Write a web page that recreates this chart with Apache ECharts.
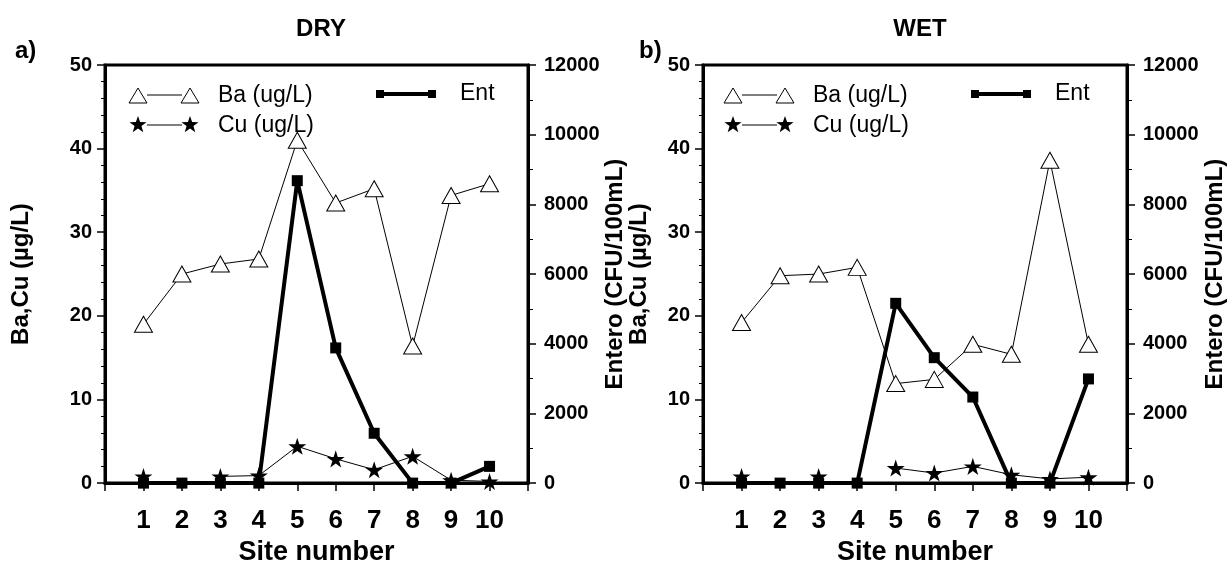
<!DOCTYPE html>
<html>
<head>
<meta charset="utf-8">
<script src="https://cdn.jsdelivr.net/npm/echarts@6/dist/echarts.min.js"></script>
<style>
  html, body { margin: 0; padding: 0; background: #fff; }
  #chart { width: 1229px; height: 571px; }
</style>
</head>
<body>
<div id="chart"></div>
<script>
// site numbers along the x axis
const sites = [1, 2, 3, 4, 5, 6, 7, 8, 9, 10]

// DRY season
const dryBa = [19, 25, 26.2, 26.8, 41, 33.5, 35.2, 16.4, 34.4, 35.8]
const dryCu = [0.8, null, 0.8, 0.9, 4.4, 2.9, 1.6, 3.2, 0.35, 0.2]
const dryEnt = [0, 0, 0, 0, 8680, 3880, 1430, 0, 0, 480]

// WET season
const wetBa = [19.2, 24.8, 25, 25.8, 11.9, 12.4, 16.6, 15.4, 38.6, 16.6]
const wetCu = [0.8, null, 0.8, null, 1.8, 1.2, 2.0, 1.0, 0.5, 0.7]
const wetEnt = [0, 0, 0, 0, 5160, 3600, 2470, 0, 0, 2990]

const FONT = 'Liberation Sans, Arial, sans-serif'
const STAR = 'path://M50,0 L61,35 L98,35 L68,57 L79,91 L50,70 L21,91 L32,57 L2,35 L39,35 Z'

function pairs(values) {
  return sites.map((s, i) => [s, values[i] == null ? '-' : values[i]])
}

function xAxisFor(gridIndex) {
  return {
    type: 'value', gridIndex, min: 0, max: 11, interval: 1,
    axisLine: { lineStyle: { color: '#000', width: 3 } },
    axisTick: { inside: false, length: 8, lineStyle: { color: '#000', width: 1.5 } },
    axisLabel: {
      margin: 25, color: '#000', fontFamily: FONT, fontSize: 26, fontWeight: 'bold',
      formatter: (v) => (sites.includes(v) ? String(v) : '')
    },
    splitLine: { show: false },
    name: 'Site number', nameLocation: 'middle', nameGap: 48,
    nameTextStyle: { color: '#000', fontFamily: FONT, fontSize: 27, fontWeight: 'bold' }
  }
}

function leftAxisFor(gridIndex, nameGap) {
  return {
    type: 'value', gridIndex, position: 'left', min: 0, max: 50, interval: 10,
    axisLine: { show: true, lineStyle: { color: '#000', width: 3 } },
    axisTick: { show: true, length: 8, lineStyle: { color: '#000', width: 1.5 } },
    minorTick: { show: true, splitNumber: 5, length: 4, lineStyle: { color: '#000', width: 1 } },
    axisLabel: { margin: 13, color: '#000', fontFamily: FONT, fontSize: 20, fontWeight: 'bold' },
    splitLine: { show: false },
    name: 'Ba,Cu (\u00b5g/L)', nameLocation: 'middle', nameGap, nameRotate: 90,
    nameTextStyle: { color: '#000', fontFamily: FONT, fontSize: 24, fontWeight: 'bold' }
  }
}

function rightAxisFor(gridIndex, nameGap) {
  return {
    type: 'value', gridIndex, position: 'right', min: 0, max: 12000, interval: 2000,
    axisLine: { show: true, lineStyle: { color: '#000', width: 3 } },
    axisTick: { show: true, length: 8, lineStyle: { color: '#000', width: 1.5 } },
    minorTick: { show: true, splitNumber: 2, length: 5, lineStyle: { color: '#000', width: 1 } },
    axisLabel: {
      margin: 16, color: '#000', fontFamily: FONT, fontSize: 20, fontWeight: 'bold',
      formatter: (v) => String(v)
    },
    splitLine: { show: false },
    name: 'Entero (CFU/100mL)', nameLocation: 'middle', nameGap, nameRotate: 90,
    nameTextStyle: { color: '#000', fontFamily: FONT, fontSize: 24, fontWeight: 'bold' }
  }
}

function seriesFor(gridIndex, ba, cu, ent) {
  const leftY = gridIndex * 2
  return [
    {
      name: 'Ba', type: 'line', xAxisIndex: gridIndex, yAxisIndex: leftY,
      data: pairs(ba), symbol: 'triangle', symbolSize: [18, 16],
      itemStyle: { color: '#fff', borderColor: '#000', borderWidth: 1 },
      lineStyle: { color: '#000', width: 1 }, z: 3
    },
    {
      name: 'Cu', type: 'line', xAxisIndex: gridIndex, yAxisIndex: leftY,
      data: pairs(cu), symbol: STAR, symbolSize: 18, symbolKeepAspect: true,
      itemStyle: { color: '#000' }, lineStyle: { color: '#000', width: 1 },
      connectNulls: false, z: 4
    },
    {
      name: 'Ent', type: 'line', xAxisIndex: gridIndex, yAxisIndex: leftY + 1,
      data: pairs(ent), symbol: 'rect', symbolSize: 11,
      itemStyle: { color: '#000' }, lineStyle: { color: '#000', width: 4 }, z: 5
    }
  ]
}

function starPoints(cx, cy, r) {
  const pts = []
  for (let i = 0; i < 10; i++) {
    const rad = i % 2 === 0 ? r : r * 0.4
    const a = -Math.PI / 2 + (i * Math.PI) / 5
    pts.push([cx + rad * Math.cos(a), cy + rad * Math.sin(a)])
  }
  return pts
}

function legendFor(x0, entX) {
  const txt = { fill: '#000', fontFamily: FONT, fontSize: 23, verticalAlign: 'middle' }
  const tri = (cx, cy) => ({
    type: 'polygon', shape: { points: [[cx, cy - 8], [cx + 9, cy + 7], [cx - 9, cy + 7]] },
    style: { fill: '#fff', stroke: '#000', lineWidth: 1 }
  })
  const star = (cx, cy) => ({
    type: 'polygon', shape: { points: starPoints(cx, cy, 9) }, style: { fill: '#000' }
  })
  const sq = (cx, cy) => ({
    type: 'rect', shape: { x: cx - 4, y: cy - 4, width: 8, height: 8 }, style: { fill: '#000' }
  })
  return [
    { type: 'line', shape: { x1: x0 + 9, y1: 95, x2: x0 + 44, y2: 95 }, style: { stroke: '#000', lineWidth: 1 } },
    tri(x0, 96), tri(x0 + 52, 96),
    { type: 'text', x: x0 + 80, y: 96, style: Object.assign({ text: 'Ba (ug/L)' }, txt) },
    { type: 'line', shape: { x1: x0 + 9, y1: 125, x2: x0 + 44, y2: 125 }, style: { stroke: '#000', lineWidth: 1 } },
    star(x0, 125), star(x0 + 52, 125),
    { type: 'text', x: x0 + 80, y: 126, style: Object.assign({ text: 'Cu (ug/L)' }, txt) },
    { type: 'line', shape: { x1: entX, y1: 94, x2: entX + 52, y2: 94 }, style: { stroke: '#000', lineWidth: 4 } },
    sq(entX, 94), sq(entX + 52, 94),
    { type: 'text', x: entX + 80, y: 94, style: Object.assign({ text: 'Ent' }, txt) }
  ]
}

const titleStyle = { color: '#000', fontFamily: FONT, fontSize: 24, fontWeight: 'bold' }

const chart = echarts.init(document.getElementById('chart'), null, { renderer: 'canvas' })
chart.setOption({
  animation: false,
  backgroundColor: '#fff',
  title: [
    { text: 'DRY', left: 316, top: 12, textAlign: 'center', textStyle: titleStyle },
    { text: 'WET', left: 915, top: 12, textAlign: 'center', textStyle: titleStyle },
    { text: 'a)', left: 10, top: 34, textStyle: titleStyle },
    { text: 'b)', left: 634, top: 34, textStyle: titleStyle }
  ],
  grid: [
    { left: 105, top: 65, width: 423, height: 424, show: true, borderColor: '#000', borderWidth: 3 },
    { left: 703, top: 65, width: 424, height: 424, show: true, borderColor: '#000', borderWidth: 3 }
  ],
  xAxis: [xAxisFor(0), xAxisFor(1)],
  yAxis: [leftAxisFor(0, 72), rightAxisFor(0, 61), leftAxisFor(1, 52), rightAxisFor(1, 76)],
  series: [...seriesFor(0, dryBa, dryCu, dryEnt), ...seriesFor(1, wetBa, wetCu, wetEnt)],
  graphic: [...legendFor(138, 380), ...legendFor(733, 975)]
})
</script>
</body>
</html>
